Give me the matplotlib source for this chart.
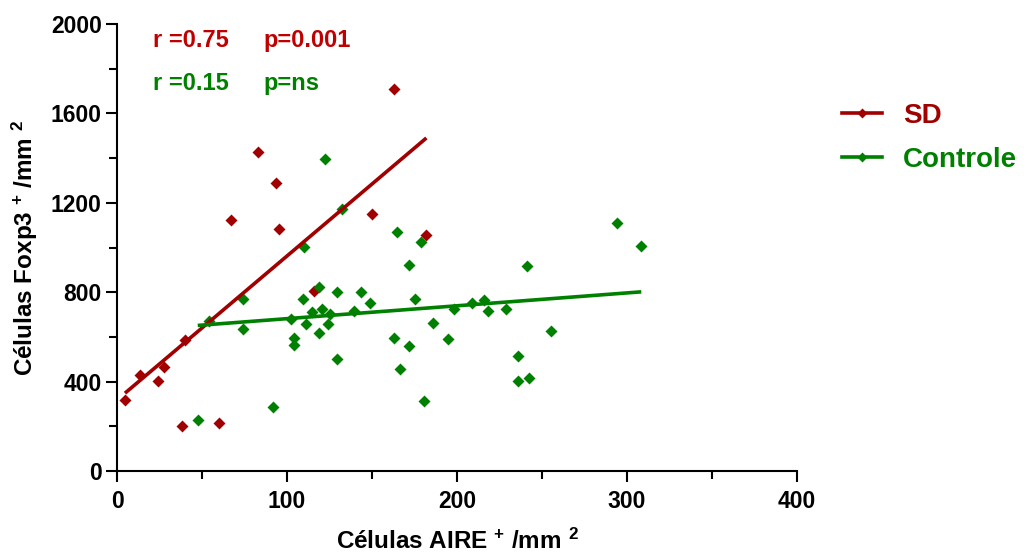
import numpy as np
import matplotlib
matplotlib.use("Agg")
import matplotlib.pyplot as plt
from matplotlib.lines import Line2D

plt.rcParams['font.family'] = ['Liberation Sans', 'DejaVu Sans']
plt.rcParams['font.weight'] = 'bold'
plt.rcParams['mathtext.fontset'] = 'custom'
plt.rcParams['mathtext.rm'] = 'Liberation Sans:bold'
plt.rcParams['mathtext.bf'] = 'Liberation Sans:bold'
plt.rcParams['mathtext.default'] = 'bf'

# ---- data ----
sd_x = [4.7, 13.5, 24, 27.6, 40, 38, 60, 82.8, 93.5, 66.9, 95.5, 163, 150, 182, 116]
sd_y = [318, 430, 403, 465, 586, 201, 215, 1426, 1287, 1123, 1084, 1709, 1151, 1056, 805]

ctrl_x = [122.2, 132.5, 109.8, 118.6, 129.2, 109.6, 74.1, 114.7, 120.4, 125.3, 139.6,
          102.4, 53.9, 74.1, 111.4, 123.9, 118.6, 104.3, 104.3, 129.2, 91.8, 47.5,
          294, 308.4, 164.7, 178.8, 171.8, 241, 143.3, 148.6, 175.5, 198.2, 209, 216,
          218, 228.6, 185.9, 162.7, 171.8, 194.7, 255, 166.3, 235.9, 235.9, 242.5, 180.6]
ctrl_y = [1396, 1172, 1002, 822, 801, 768, 770, 713, 725, 702, 714,
          680, 673, 637, 658, 658, 616, 597, 562, 501, 286, 227,
          1110, 1005, 1069, 1026, 920, 919, 802, 752, 770, 725, 750, 765,
          716, 725, 661, 597, 559, 589, 628, 458, 513, 401, 416, 312]

# regression lines (slope, intercept)
sd_fit = (6.44, 318)
ctrl_fit = (0.576, 624)

series_labels = ['SD', 'Controle']
stats_sd = ['r =0.75', 'p=0.001']
stats_ctrl = ['r =0.15', 'p=ns']

x_ticks = [0, 100, 200, 300, 400]
y_ticks = [0, 400, 800, 1200, 1600, 2000]

red_mark = '#A00000'
red_text = '#C00000'
green = '#008000'

fig = plt.figure(figsize=(10.26, 5.58), dpi=100)
ax = fig.add_axes([117/1026, 1-471/558, 680/1026, 447/558])

ms = 6.2
ax.plot(sd_x, sd_y, linestyle='none', marker='D', ms=ms, color=red_mark, mec='none')
ax.plot(ctrl_x, ctrl_y, linestyle='none', marker='D', ms=ms, color=green, mec='none')

xs = np.array([min(sd_x), max(sd_x)])
ax.plot(xs, sd_fit[0]*xs + sd_fit[1], color=red_mark, lw=2.6, solid_capstyle='butt')
xc = np.array([min(ctrl_x), max(ctrl_x)])
ax.plot(xc, ctrl_fit[0]*xc + ctrl_fit[1], color=green, lw=2.6, solid_capstyle='butt')

ax.set_xlim(0, 400)
ax.set_ylim(0, 2000)
ax.set_xticks(x_ticks)
ax.set_yticks(y_ticks)
ax.set_xticks(np.arange(50, 400, 100), minor=True)
ax.set_yticks(np.arange(200, 2000, 400), minor=True)
for s in ['top', 'right']:
    ax.spines[s].set_visible(False)
for s in ['left', 'bottom']:
    ax.spines[s].set_linewidth(1.5)
ax.tick_params(which='major', direction='out', length=8, width=1.5, labelsize=16.5)
ax.tick_params(axis='x', which='major', pad=6)
ax.tick_params(axis='y', which='major', pad=3)
ax.tick_params(which='minor', direction='out', length=5.5, width=1.5)
for lab in ax.get_xticklabels() + ax.get_yticklabels():
    lab.set_fontweight('bold')

ax.set_xlabel(r'Células AIRE $^{+}$ /mm $^{2}$', fontsize=17.5, fontweight='bold', labelpad=11)
ax.set_ylabel(r'Células Foxp3 $^{+}$ /mm $^{2}$', fontsize=17.5, fontweight='bold', labelpad=8)

ax.text(0.053, 0.964, stats_sd[0], transform=ax.transAxes, color=red_text, fontsize=17,
        fontweight='bold', va='center', ha='left')
ax.text(0.216, 0.964, stats_sd[1], transform=ax.transAxes, color=red_text, fontsize=17,
        fontweight='bold', va='center', ha='left')
ax.text(0.053, 0.866, stats_ctrl[0], transform=ax.transAxes, color=green, fontsize=17,
        fontweight='bold', va='center', ha='left')
ax.text(0.216, 0.866, stats_ctrl[1], transform=ax.transAxes, color=green, fontsize=17,
        fontweight='bold', va='center', ha='left')

handles = [Line2D([], [], color=red_mark, lw=2.6, marker='D', ms=5, mec='none'),
           Line2D([], [], color=green, lw=2.6, marker='D', ms=5, mec='none')]
leg = fig.legend(handles, series_labels, loc='upper left',
                 bbox_to_anchor=(842/1026, 1-103/558), frameon=False,
                 prop={'size': 20, 'weight': 'bold'}, handlelength=1.45,
                 handletextpad=0.75, labelspacing=0.65, borderpad=0, borderaxespad=0,
                 numpoints=1, labelcolor=[red_mark, green])

fig.savefig('out.png', dpi=100)
